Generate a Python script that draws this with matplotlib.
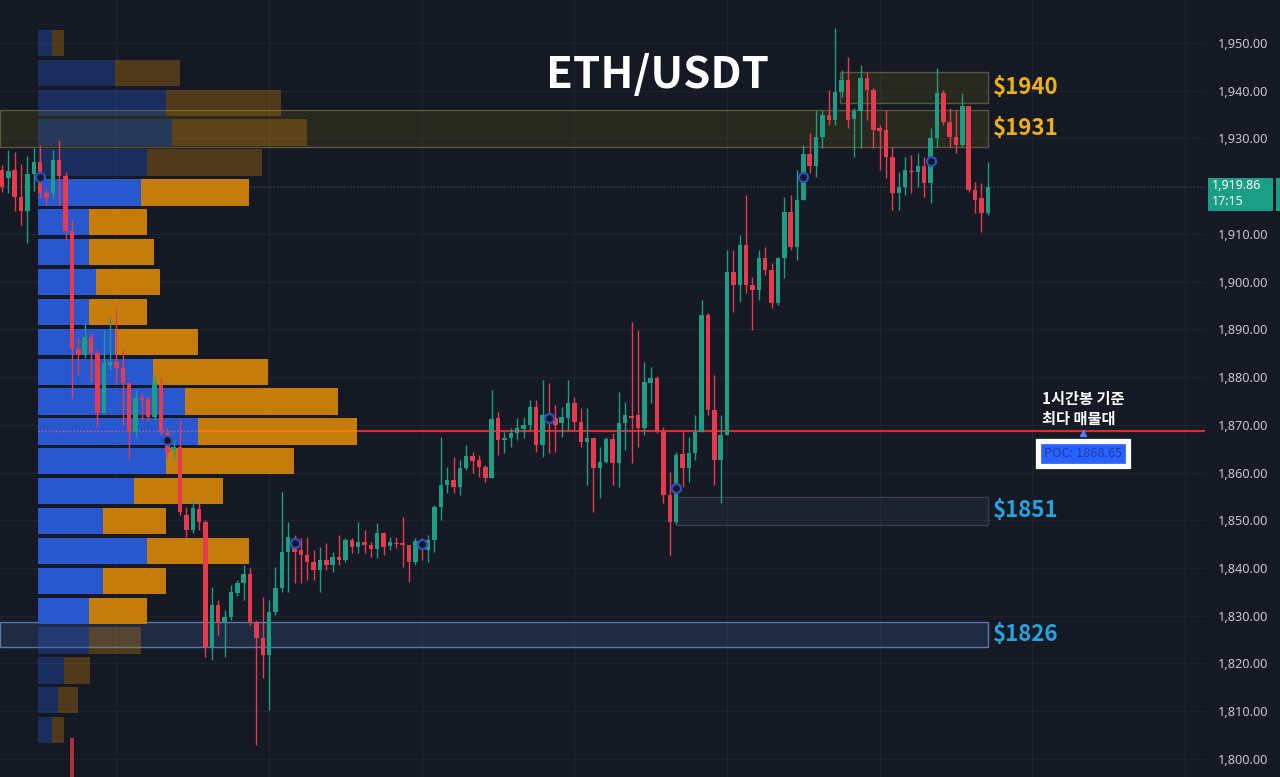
import numpy as np
import matplotlib
matplotlib.use("Agg")
import matplotlib.pyplot as plt
from matplotlib.patches import Rectangle
from matplotlib.colors import to_rgba

plt.rcParams['font.family'] = ['Noto Sans CJK KR', 'DejaVu Sans']

# ETH/USDT 1h candles, oldest -> newest
opens = [1923.39, 1921.72, 1923.39, 1917.74, 1914.81, 1922.56, 1925.07, 1918.58, 1918.58, 1925.49,
         1922.14, 1910.62, 1885.89, 1884.64, 1888.41, 1885.06, 1872.49, 1882.54, 1883.17, 1881.91,
         1878.77, 1868.51, 1875.63, 1875.42, 1871.65, 1878.35, 1868.30, 1864.73, 1865.36, 1851.12,
         1847.97, 1852.37, 1849.65, 1823.46, 1832.26, 1828.49, 1829.75, 1834.78, 1836.87, 1838.76,
         1828.49, 1825.35, 1821.79, 1830.80, 1835.82, 1843.37, 1844.20, 1843.78, 1842.74, 1841.27,
         1839.59, 1841.69, 1840.64, 1842.32, 1841.69, 1845.88, 1844.41, 1845.46, 1844.83, 1843.99,
         1847.35, 1844.62, 1845.25, 1845.25, 1844.83, 1841.27, 1845.25, 1843.78, 1845.88, 1852.79,
         1857.40, 1858.45, 1856.98, 1860.96, 1863.48, 1862.64, 1861.17, 1858.87, 1871.44, 1866.83,
         1867.25, 1868.30, 1869.13, 1869.97, 1873.74, 1865.78, 1872.28, 1871.44, 1870.39, 1871.44,
         1874.58, 1870.60, 1866.41, 1867.25, 1860.96, 1862.22, 1867.04, 1862.01, 1870.39, 1871.86,
         1872.07, 1869.34, 1878.77, 1879.82, 1868.51, 1855.31, 1849.65, 1863.90, 1860.96, 1864.11,
         1868.51, 1893.02, 1873.11, 1862.64, 1867.88, 1902.03, 1899.30, 1907.68, 1899.30, 1898.25,
         1904.96, 1902.44, 1895.53, 1904.96, 1914.60, 1907.26, 1917.11, 1926.75, 1924.23, 1930.31,
         1934.92, 1933.87, 1939.74, 1942.25, 1934.08, 1935.75, 1942.67, 1940.15, 1932.19, 1931.77,
         1926.12, 1918.58, 1919.83, 1923.19, 1922.98, 1924.23, 1920.67, 1930.10, 1939.53, 1933.45,
         1930.31, 1928.63, 1936.80, 1919.20, 1917.53, 1914.39]
highs = [1924.44, 1927.58, 1927.17, 1924.65, 1926.33, 1928.00, 1928.63, 1919.62, 1927.58, 1929.68,
         1922.98, 1913.13, 1888.20, 1891.34, 1889.25, 1885.68, 1889.87, 1892.39, 1894.48, 1885.68,
         1878.98, 1877.30, 1876.68, 1876.05, 1880.45, 1879.82, 1869.34, 1866.83, 1871.02, 1852.79,
         1854.26, 1853.63, 1850.07, 1836.03, 1833.31, 1831.21, 1836.45, 1837.50, 1840.64, 1840.01,
         1829.12, 1833.94, 1833.31, 1840.22, 1855.94, 1849.65, 1846.93, 1846.30, 1846.51, 1843.78,
         1844.41, 1845.25, 1843.37, 1846.93, 1846.30, 1846.30, 1849.65, 1847.97, 1845.46, 1849.44,
         1847.56, 1846.51, 1846.51, 1850.70, 1844.83, 1846.30, 1846.30, 1846.93, 1853.21, 1867.46,
         1861.17, 1863.27, 1862.64, 1865.78, 1864.32, 1863.69, 1861.59, 1877.30, 1872.70, 1868.51,
         1869.34, 1871.44, 1871.65, 1875.21, 1875.21, 1879.40, 1878.77, 1874.16, 1873.74, 1879.40,
         1875.84, 1873.53, 1873.53, 1867.25, 1865.36, 1867.46, 1868.30, 1876.89, 1874.79, 1891.55,
         1889.87, 1883.17, 1882.12, 1880.24, 1869.55, 1860.13, 1864.32, 1868.51, 1867.46, 1872.07,
         1896.16, 1893.44, 1880.45, 1872.07, 1906.63, 1906.63, 1909.78, 1918.16, 1900.98, 1906.63,
         1907.26, 1903.91, 1905.17, 1917.74, 1918.16, 1923.39, 1928.63, 1931.15, 1935.96, 1935.96,
         1940.15, 1953.14, 1944.34, 1947.07, 1936.38, 1945.39, 1943.93, 1940.57, 1932.82, 1935.96,
         1928.21, 1922.98, 1926.12, 1926.54, 1926.96, 1926.12, 1932.19, 1944.76, 1940.15, 1936.38,
         1935.96, 1939.53, 1936.80, 1920.88, 1920.67, 1925.07]
lows = [1918.79, 1918.58, 1914.81, 1911.87, 1908.10, 1919.00, 1917.53, 1916.06, 1917.32, 1916.06,
        1908.73, 1875.63, 1880.45, 1884.01, 1878.98, 1869.55, 1872.49, 1881.49, 1878.77, 1869.97,
        1862.64, 1867.46, 1871.02, 1871.02, 1871.02, 1867.88, 1863.06, 1862.64, 1851.12, 1846.51,
        1847.35, 1847.97, 1821.37, 1820.74, 1825.98, 1821.37, 1829.12, 1834.15, 1833.31, 1828.07,
        1802.93, 1816.97, 1810.27, 1830.17, 1834.99, 1834.99, 1836.87, 1836.87, 1837.50, 1837.50,
        1834.99, 1839.59, 1839.18, 1840.64, 1841.27, 1843.16, 1843.16, 1843.16, 1842.32, 1842.11,
        1842.74, 1843.78, 1844.20, 1840.22, 1837.08, 1840.64, 1841.69, 1841.27, 1843.37, 1850.07,
        1855.73, 1855.73, 1855.31, 1860.54, 1859.92, 1859.08, 1858.03, 1858.87, 1863.69, 1864.11,
        1865.36, 1866.83, 1867.25, 1868.92, 1864.32, 1863.27, 1864.11, 1864.32, 1867.46, 1868.92,
        1868.92, 1865.36, 1857.40, 1851.75, 1854.68, 1862.01, 1857.40, 1856.98, 1864.73, 1862.01,
        1865.36, 1867.88, 1874.58, 1868.30, 1853.63, 1842.74, 1849.23, 1856.98, 1858.03, 1862.64,
        1868.51, 1872.07, 1857.40, 1853.63, 1867.88, 1893.65, 1895.74, 1897.63, 1889.87, 1896.16,
        1901.40, 1894.48, 1895.11, 1900.77, 1906.63, 1904.54, 1917.11, 1922.77, 1921.93, 1928.00,
        1932.82, 1932.82, 1938.69, 1932.19, 1926.12, 1928.00, 1933.87, 1928.00, 1923.39, 1921.72,
        1915.01, 1915.01, 1918.16, 1918.58, 1919.83, 1917.74, 1916.48, 1928.21, 1932.82, 1928.21,
        1926.96, 1928.21, 1918.79, 1914.39, 1910.41, 1913.97]
closes = [1919.83, 1923.19, 1917.74, 1914.81, 1922.56, 1925.07, 1918.58, 1917.53, 1925.49, 1922.14,
          1910.62, 1885.89, 1884.64, 1888.41, 1885.06, 1872.49, 1882.96, 1883.17, 1881.91, 1878.77,
          1868.51, 1875.63, 1875.21, 1871.65, 1878.77, 1868.51, 1864.32, 1865.36, 1851.75, 1847.97,
          1852.58, 1849.65, 1823.46, 1832.26, 1828.49, 1829.75, 1834.99, 1836.87, 1838.76, 1828.49,
          1825.35, 1821.79, 1830.80, 1835.82, 1843.37, 1846.51, 1843.37, 1842.74, 1841.27, 1839.59,
          1841.69, 1840.64, 1842.32, 1841.69, 1845.88, 1844.41, 1845.46, 1844.83, 1843.99, 1847.35,
          1844.41, 1845.46, 1845.04, 1844.83, 1841.27, 1845.67, 1844.20, 1845.88, 1852.79, 1857.40,
          1858.45, 1856.98, 1860.96, 1863.48, 1862.43, 1861.17, 1858.87, 1871.23, 1866.83, 1867.25,
          1868.30, 1869.34, 1869.97, 1873.74, 1865.78, 1872.07, 1871.02, 1869.97, 1871.65, 1874.58,
          1870.60, 1866.41, 1867.25, 1860.96, 1862.22, 1867.04, 1862.01, 1870.39, 1872.07, 1871.44,
          1869.34, 1878.98, 1879.82, 1868.51, 1855.31, 1849.65, 1863.69, 1860.96, 1864.11, 1868.51,
          1893.02, 1873.11, 1862.64, 1867.88, 1902.03, 1899.30, 1907.68, 1899.30, 1898.25, 1904.96,
          1902.44, 1895.53, 1904.96, 1914.60, 1907.26, 1917.11, 1926.75, 1924.23, 1930.31, 1934.92,
          1933.87, 1939.74, 1942.25, 1933.87, 1935.75, 1942.67, 1940.15, 1931.77, 1931.56, 1926.12,
          1918.58, 1919.83, 1923.39, 1922.98, 1924.23, 1920.67, 1930.10, 1939.53, 1933.45, 1930.31,
          1928.63, 1936.80, 1919.20, 1917.11, 1914.39, 1919.86]
countdown = "17:15"

# only volume bar that pokes up into view
big_vol_idx = 11
big_vol_top = 1804.4

# volume profile rows, top to bottom (buy / sell)
profile_top = 1950.0
profile_step = 6.26
vol_up = [14, 77, 128, 134, 109, 103, 51, 51, 58, 51, 77, 115, 147, 160, 128, 96, 65, 109, 65, 51, 51, 26, 20, 14]
vol_down = [12, 65, 115, 135, 115, 108, 58, 65, 64, 58, 83, 115, 153, 159, 128, 89, 63, 102, 63, 58, 52, 26, 20, 12]
value_area = (5, 19)
poc_price = 1868.65

# supply / demand zones
zone_names = ["$1940", "$1931", "$1851", "$1826"]
zone_lo = [1937.43, 1928.21, 1849.02, 1823.46]
zone_hi = [1943.93, 1935.96, 1854.89, 1828.70]
zone_from = [131.8, None, 106.0, None]   # None = from left edge

# session markers
marker_idx = [6, 26, 46, 66, 86, 106, 126, 146]
marker_price = [1921.93, 1866.83, 1845.25, 1845.04, 1871.44, 1856.77, 1921.93, 1925.28]

price_ticks = list(range(1800, 1960, 10))

# colours
bg = "#151924"
up_c = "#1c9d84"
dn_c = "#e83a4f"
gold = "#eeb01a"
sky = "#27a2e0"
zone_fc = [("#6a640b", 0.22), ("#6a640b", 0.22), ("#334156", 0.25), ("#395d94", 0.28)]
zone_ec = ["#58563f", "#58563f", "#343d4e", "#5a77a6"]
zone_tc = [gold, gold, sky, sky]

fig = plt.figure(figsize=(12.8, 7.77), dpi=100, facecolor=bg)
ax = fig.add_axes([0, 0, 1205 / 1280, 1], facecolor=bg)

o = np.array(opens)
h = np.array(highs)
l = np.array(lows)
c = np.array(closes)
n = len(o)
x = np.arange(n)

ax.set_xlim(-0.31, 189.15)
ax.set_ylim(1796.22, 1959.01)
y0 = ax.get_ylim()[0]
xleft = ax.get_xlim()[0]

# grid
ax.set_yticks(price_ticks)
ax.set_xticks(np.arange(18, 190, 24))
ax.grid(color="#1e2230", lw=0.9)
ax.set_axisbelow(True)
ax.tick_params(axis="x", bottom=False, labelbottom=False)
ax.yaxis.tick_right()
# the label under the live price tag is hidden
ax.set_yticklabels(["" if abs(t - c[-1]) < 4 else f"{t:,.2f}" for t in price_ticks])
ax.tick_params(axis="y", length=0, pad=9.5, labelsize=9.2, labelcolor="#c3c6ce")
for lbl in ax.get_yticklabels():
    lbl.set_family(["Noto Sans", "DejaVu Sans"])
for s in ax.spines.values():
    s.set_visible(False)

# zones
zone_end = n - 1
for name, lo, hi, st, fc, ec, tc in zip(zone_names, zone_lo, zone_hi, zone_from, zone_fc, zone_ec, zone_tc):
    s = xleft if st is None else st
    ax.add_patch(Rectangle((s, lo), zone_end - s, hi - lo, facecolor=to_rgba(*fc),
                           edgecolor=ec, lw=1, zorder=2))
    ax.text(zone_end + 0.8, (lo + hi) / 2, name, color=tc, fontsize=16, fontweight="bold",
            ha="left", va="center", zorder=9)

# volume profile
rows = profile_top - profile_step * np.arange(len(vol_up))
up = np.array(vol_up, dtype=float)
dn = np.array(vol_down, dtype=float)
scale = 50.16 / (up + dn).max()
pstart = 5.66
alphas = [1.0 if value_area[0] <= i <= value_area[1] else 0.33 for i in range(len(up))]
ax.barh(rows, up * scale, left=pstart, height=profile_step * 0.88,
        color=[to_rgba("#2957d0", a) for a in alphas], zorder=3)
ax.barh(rows, dn * scale, left=pstart + up * scale, height=profile_step * 0.88,
        color=[to_rgba("#c47c0b", a) for a in alphas], zorder=3)

# point of control
k = int(np.argmax(up + dn))
ax.hlines(poc_price, pstart + (up[k] + dn[k]) * scale, ax.get_xlim()[1], color="#d42b35", lw=1.6, zorder=3)
ax.hlines(poc_price, pstart + up[k] * scale, pstart + (up[k] + dn[k]) * scale, color="#f07a10", lw=1.6, zorder=4)
ax.hlines(poc_price, pstart, pstart + up[k] * scale, color="#e5587c", lw=1, linestyles=(0, (1, 1.5)), zorder=4)

# last price line
ax.axhline(c[-1], color="#2a8f80", alpha=0.5, lw=0.8, ls=(0, (1, 2)), zorder=1)

# volume bar
ax.bar(big_vol_idx, big_vol_top - y0, bottom=y0, width=0.7, color="#b02f3d", zorder=4)

# candles
cols = np.where(c >= o, up_c, dn_c)
ax.vlines(x, l, h, colors=cols, lw=1, zorder=5)
ax.bar(x, np.maximum(np.abs(c - o), 0.3), bottom=np.minimum(o, c), width=0.7, color=cols, zorder=6)

ax.plot(marker_idx, marker_price, "o", ms=6.5, mfc=bg, mec="#2d4fc0", mew=1.6, ls="none", zorder=7)

# texts
fig.text(658 / 1280, 1 - 75 / 777, "ETH/USDT", color="white", fontsize=31.5, fontweight="bold",
         ha="center", va="center")
ax.text(163.5, 1873.4, "1시간봉 기준\n최다 매물대", color="white", fontsize=11, fontweight="bold",
        ha="left", va="center", linespacing=1.25, zorder=9)
ax.text(170, 1864.0, f"POC: {poc_price}", color="#1b3ea8", fontsize=9.2, ha="center", va="center",
        bbox=dict(boxstyle="square,pad=0.45", fc="#2962ff", ec="white", lw=3.8), zorder=9)
ax.plot(170, poc_price - 0.4, marker="^", ms=5, color="#4d7dff", zorder=8)

# current price tag
tr = ax.get_yaxis_transform()
ax.add_patch(Rectangle((1208 / 1205, c[-1] - 5.06), 65 / 1205, 6.92, transform=tr,
                       facecolor="#1a9f86", clip_on=False, zorder=10))
ax.add_patch(Rectangle((1276 / 1205, c[-1] - 5.06), 5 / 1205, 6.92, transform=tr,
                       facecolor="#1a9f86", clip_on=False, zorder=10))
ax.text(1212 / 1205, c[-1] + 0.39, f"{c[-1]:,.2f}", transform=tr, color="white", fontsize=9,
        fontweight="bold", ha="left", va="center", family=["Noto Sans", "DejaVu Sans"], zorder=11)
ax.text(1212 / 1205, c[-1] - 3.17, countdown, transform=tr, color="white", fontsize=9,
        ha="left", va="center", family=["Noto Sans", "DejaVu Sans"], zorder=11)

fig.savefig("out.png", dpi=100, facecolor=bg)
